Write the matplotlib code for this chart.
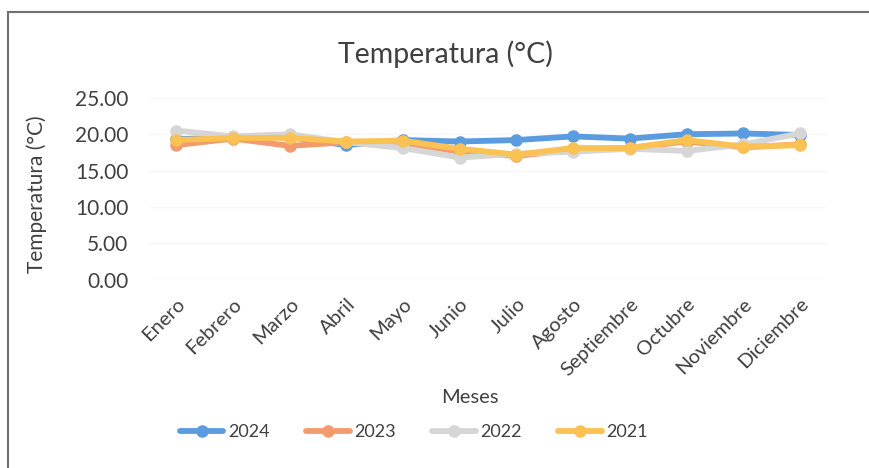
import matplotlib.pyplot as plt
from matplotlib.patches import Rectangle

# Datos
meses = ["Enero", "Febrero", "Marzo", "Abril", "Mayo", "Junio", "Julio",
         "Agosto", "Septiembre", "Octubre", "Noviembre", "Diciembre"]
t2024 = [19.3, 19.6, 19.6, 18.5, 19.2, 19.0, 19.2, 19.7, 19.4, 20.0, 20.1, 19.9]
t2023 = [18.5, 19.4, 18.4, 18.9, 18.8, 17.6, 17.0, 17.9, 18.1, 19.0, 18.2, 18.6]
t2022 = [20.5, 19.7, 20.0, 18.9, 18.1, 16.8, 17.3, 17.6, 18.0, 17.7, 18.6, 20.1]
t2021 = [19.2, 19.5, 19.5, 19.0, 19.1, 18.0, 17.2, 18.1, 18.1, 19.2, 18.3, 18.5]
yticks = [0, 5, 10, 15, 20, 25]

plt.rcParams['font.family'] = ['Lato', 'DejaVu Sans']

fig = plt.figure(figsize=(8.7, 4.68), dpi=100)
ax = fig.add_axes([0.170, 0.402, 0.782, 0.389])

series = [("2024", t2024, "#5B9BE0"),
          ("2023", t2023, "#F29C6E"),
          ("2022", t2022, "#D6D6D6"),
          ("2021", t2021, "#FAC252")]
x = range(len(meses))
for nombre, vals, color in series:
    ax.plot(x, vals, color=color, linewidth=4.2, marker='o', markersize=8,
            label=nombre, solid_capstyle='round')

ax.set_xlim(-0.5, len(meses) - 0.5)
ax.set_ylim(0, 25)
ax.set_yticks(yticks)
ax.set_yticklabels([f"{v:.2f}" for v in yticks], fontsize=15, color='#404040')
ax.set_xticks(list(x))
ax.set_xticklabels(meses, rotation=45, ha='right', rotation_mode='anchor',
                   fontsize=14.5, color='#404040')
ax.tick_params(axis='y', length=0, pad=14)
ax.tick_params(axis='x', length=0, pad=11)
ax.grid(axis='y', color='#f7f7f7', linewidth=1)
ax.set_axisbelow(True)
for s in ax.spines.values():
    s.set_visible(False)

fig.text(0.512, 0.884, "Temperatura (°C)", ha='center', va='center',
         fontsize=20.5, color='#404040')
fig.text(0.042, 0.585, "Temperatura (°C)", ha='center', va='center',
         rotation=90, fontsize=15, color='#404040')
fig.text(0.540, 0.150, "Meses", ha='center', va='center',
         fontsize=14.5, color='#404040')

fig.legend(loc='center', bbox_to_anchor=(0.476, 0.077), ncol=4, frameon=False,
           fontsize=13, handlelength=2.4, columnspacing=2.0, handletextpad=0.28,
           labelcolor='#404040')

# Marco del gráfico
fig.patches.append(Rectangle((0.009, -0.01), 0.995, 0.985, transform=fig.transFigure,
                             fill=False, edgecolor='#707070', linewidth=1.5))

fig.savefig("out.png", dpi=100)
